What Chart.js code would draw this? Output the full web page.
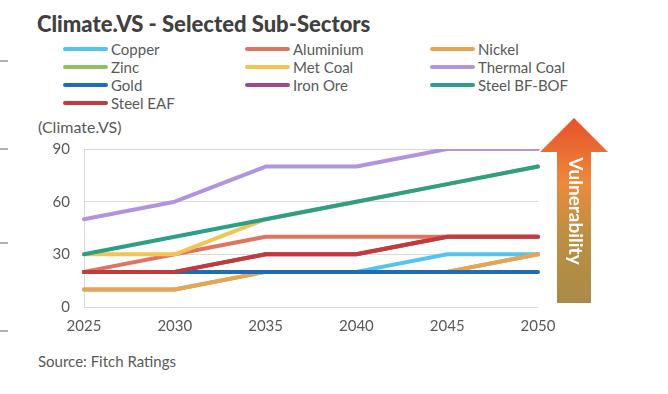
<!DOCTYPE html>
<html lang="en">
<head>
  <meta charset="UTF-8" />
  <title>Climate.VS - Selected Sub-Sectors</title>
  <script src="https://cdn.jsdelivr.net/npm/chart.js"></script>
  <style>
    body {
      margin: 0;
      width: 668px;
      height: 394px;
      background: #ffffff;
      font-family: 'Lato', sans-serif;
      position: relative;
      overflow: hidden;
    }

    #chart {
      position: absolute;
      left: 0;
      top: 0;
    }

    .title {
      position: absolute;
      left: 37px;
      top: 10px;
      font-size: 22px;
      font-weight: 900;
      color: #404040;
      white-space: nowrap;
    }

    .legend {
      position: absolute;
      left: 63px;
      top: 40px;
      display: grid;
      grid-template-columns: 182px 185px 185px;
      row-gap: 0;
    }

    .legend-item {
      display: flex;
      align-items: center;
      height: 18px;
      font-size: 15px;
      color: #595959;
      white-space: nowrap;
    }

    .legend-item .swatch {
      width: 45px;
      height: 4px;
      border-radius: 2px;
      margin-right: 3px;
    }

    .unit {
      position: absolute;
      left: 38px;
      top: 117px;
      font-size: 16px;
      color: #595959;
    }

    .source {
      position: absolute;
      left: 38px;
      top: 352px;
      font-size: 15px;
      color: #595959;
    }

    .edge-mark {
      position: absolute;
      left: 0;
      width: 8px;
      height: 2px;
      background: #b0b0b0;
    }

    #arrow {
      position: absolute;
      left: 0;
      top: 0;
    }
  </style>
</head>
<body>
  <div class="title">Climate.VS - Selected Sub-Sectors</div>
  <div class="legend" id="legend"></div>
  <div class="unit">(Climate.VS)</div>
  <div class="source">Source: Fitch Ratings</div>

  <div class="edge-mark" style="top: 60px;"></div>
  <div class="edge-mark" style="top: 148px;"></div>
  <div class="edge-mark" style="top: 242px;"></div>
  <div class="edge-mark" style="top: 330px;"></div>

  <canvas id="chart" width="668" height="394"></canvas>

  <svg id="arrow" width="668" height="394">
    <defs>
      <linearGradient id="vulnGrad" x1="0" y1="0" x2="0" y2="1">
        <stop offset="0%" stop-color="#e8502a" />
        <stop offset="35%" stop-color="#ec8a3c" />
        <stop offset="62%" stop-color="#bf8f42" />
        <stop offset="100%" stop-color="#a88b48" />
      </linearGradient>
    </defs>
    <polygon points="574,118 608,152 591,152 591,303 557,303 557,152 540,152" fill="url(#vulnGrad)" />
    <text x="574" y="211" fill="#ffffff" font-family="Lato, sans-serif" font-weight="bold" font-size="19"
          text-anchor="middle" dominant-baseline="middle" transform="rotate(90 574 211)">Vulnerability</text>
  </svg>

  <script>
    const years = ["2025", "2030", "2035", "2040", "2045", "2050"];
    const yTicks = [0, 30, 60, 90];

    const seriesNames = ["Copper", "Aluminium", "Nickel", "Zinc", "Met Coal", "Thermal Coal",
                         "Gold", "Iron Ore", "Steel BF-BOF", "Steel EAF"];

    const copper      = [20, 20, 20, 20, 30, 30];
    const aluminium   = [20, 30, 40, 40, 40, 40];
    const nickel      = [10, 10, 20, 20, 20, 30];
    const zinc        = [10, 10, 20, 20, 20, 30];
    const metCoal     = [30, 30, 50, 60, 70, 80];
    const thermalCoal = [50, 60, 80, 80, 90, 90];
    const gold        = [20, 20, 20, 20, 20, 20];
    const ironOre     = [20, 20, 30, 30, 40, 40];
    const steelBfBof  = [30, 40, 50, 60, 70, 80];
    const steelEaf    = [20, 20, 30, 30, 40, 40];

    const seriesValues = [copper, aluminium, nickel, zinc, metCoal, thermalCoal,
                          gold, ironOre, steelBfBof, steelEaf];

    const colors = ["#55c3ef", "#e07462", "#e9a356", "#8fc062", "#f2c454", "#b293df",
                    "#1e6db5", "#9b4a8c", "#2c9f86", "#c23a3a"];

    // lower number = drawn on top
    const drawOrder = [5, 7, 4, 9, 6, 2, 3, 8, 1, 0];

    function buildLegend() {
      let legendDiv = document.getElementById("legend");
      seriesNames.forEach((name, i) => {
        let item = document.createElement("div");
        item.className = "legend-item";
        let swatch = document.createElement("span");
        swatch.className = "swatch";
        swatch.style.background = colors[i];
        let label = document.createElement("span");
        label.innerText = name;
        item.appendChild(swatch);
        item.appendChild(label);
        legendDiv.appendChild(item);
      });
    }

    function createChart() {
      const ctx = document.getElementById("chart").getContext("2d");
      new Chart(ctx, {
        type: "line",
        data: {
          labels: years,
          datasets: seriesNames.map((name, i) => ({
            label: name,
            data: seriesValues[i],
            borderColor: colors[i],
            backgroundColor: colors[i],
            borderWidth: 4,
            borderCapStyle: "round",
            borderJoinStyle: "round",
            pointRadius: 0,
            tension: 0,
            order: drawOrder[i]
          }))
        },
        options: {
          responsive: false,
          animation: false,
          layout: {
            padding: { left: 40, right: 130, top: 149, bottom: 49 }
          },
          plugins: {
            legend: { display: false },
            tooltip: { enabled: false }
          },
          scales: {
            x: {
              offset: false,
              grid: { display: false, drawTicks: false },
              border: { display: false },
              ticks: {
                padding: 10,
                color: "#595959",
                font: { family: "Lato", size: 15 }
              }
            },
            y: {
              min: 0,
              max: 90,
              afterBuildTicks: (scale) => {
                scale.ticks = yTicks.map(v => ({ value: v }));
              },
              afterFit: (scale) => {
                scale.width = 44;
              },
              grid: { color: "#d9d9d9", lineWidth: 1, drawTicks: false },
              border: { display: true, color: "#d9d9d9" },
              ticks: {
                padding: 14,
                color: "#595959",
                font: { family: "Lato", size: 15 }
              }
            }
          }
        }
      });
    }

    buildLegend();
    createChart();
  </script>
</body>
</html>
